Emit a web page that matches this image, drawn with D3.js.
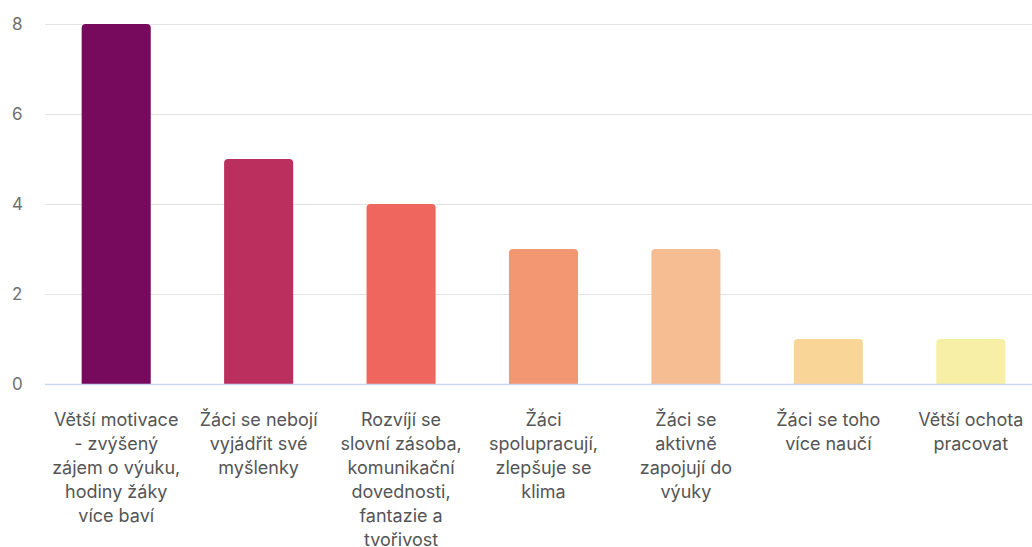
<!DOCTYPE html>
<html>
<head>
<meta charset="utf-8">
<script src="https://cdn.jsdelivr.net/npm/d3@7"></script>
<style>
  html, body { margin: 0; padding: 0; background: #fff; }
  svg { display: block; font-family: Inter, "Noto Sans", sans-serif; }
</style>
</head>
<body>
<svg id="chart" width="1032" height="547"></svg>
<script>
const categories = [
  "Větší motivace\n- zvýšený\nzájem o výuku,\nhodiny žáky\nvíce baví",
  "Žáci se nebojí\nvyjádřit své\nmyšlenky",
  "Rozvíjí se\nslovní zásoba,\nkomunikační\ndovednosti,\nfantazie a\ntvořivost",
  "Žáci\nspolupracují,\nzlepšuje se\nklima",
  "Žáci se\naktivně\nzapojují do\nvýuky",
  "Žáci se toho\nvíce naučí",
  "Větší ochota\npracovat"
];
const values = [8, 5, 4, 3, 3, 1, 1];
const colors = ["#770A5C", "#BA2F5E", "#EE665D", "#F29771", "#F6BC92", "#FAD598", "#F8EFA6"];
const yTicks = [0, 2, 4, 6, 8];

const svg = d3.select("#chart");
const margin = { left: 45, right: -10, top: 24, bottom: 163 };
const W = 1032, H = 547;
const x = d3.scaleBand().domain(d3.range(categories.length))
  .range([margin.left, W - margin.right]).paddingInner(0.515).paddingOuter(0.2575);
const y = d3.scaleLinear().domain([0, 8]).range([H - margin.bottom, margin.top]);

// gridlines
svg.append("g").selectAll("line").data(yTicks.filter(d => d !== 0)).join("line")
  .attr("x1", margin.left).attr("x2", W)
  .attr("y1", d => y(d) + 0.5).attr("y2", d => y(d) + 0.5)
  .attr("stroke", "#e3e3e3").attr("stroke-width", 1);

// y tick labels
svg.append("g").selectAll("text").data(yTicks).join("text")
  .attr("x", 12).attr("y", d => y(d)).attr("dy", "0.35em")
  .attr("fill", "#707070").attr("font-size", 17)
  .text(d => d);

// bars with rounded top corners
const r = 4;
svg.append("g").selectAll("path").data(values).join("path")
  .attr("fill", (d, i) => colors[i])
  .attr("d", (d, i) => {
    const x0 = x(i), w = x.bandwidth(), y0 = y(d), y1 = y(0);
    return `M${x0},${y1}V${y0 + r}Q${x0},${y0} ${x0 + r},${y0}H${x0 + w - r}Q${x0 + w},${y0} ${x0 + w},${y0 + r}V${y1}Z`;
  });

// baseline
svg.append("line").attr("x1", margin.left).attr("x2", W)
  .attr("y1", y(0) + 0.5).attr("y2", y(0) + 0.5)
  .attr("stroke", "#c9d7f2").attr("stroke-width", 1.5);

// category labels
const lab = svg.append("g").selectAll("text").data(categories).join("text")
  .attr("text-anchor", "middle").attr("fill", "#555").attr("font-size", 18)
  .attr("x", (d, i) => x(i) + x.bandwidth() / 2)
  .attr("y", y(0) + 42);
lab.each(function(d) {
  const t = d3.select(this);
  d.split("\n").forEach((line, k) => {
    t.append("tspan").attr("x", t.attr("x")).attr("dy", k === 0 ? 0 : 24).text(line);
  });
});
</script>
</body>
</html>
